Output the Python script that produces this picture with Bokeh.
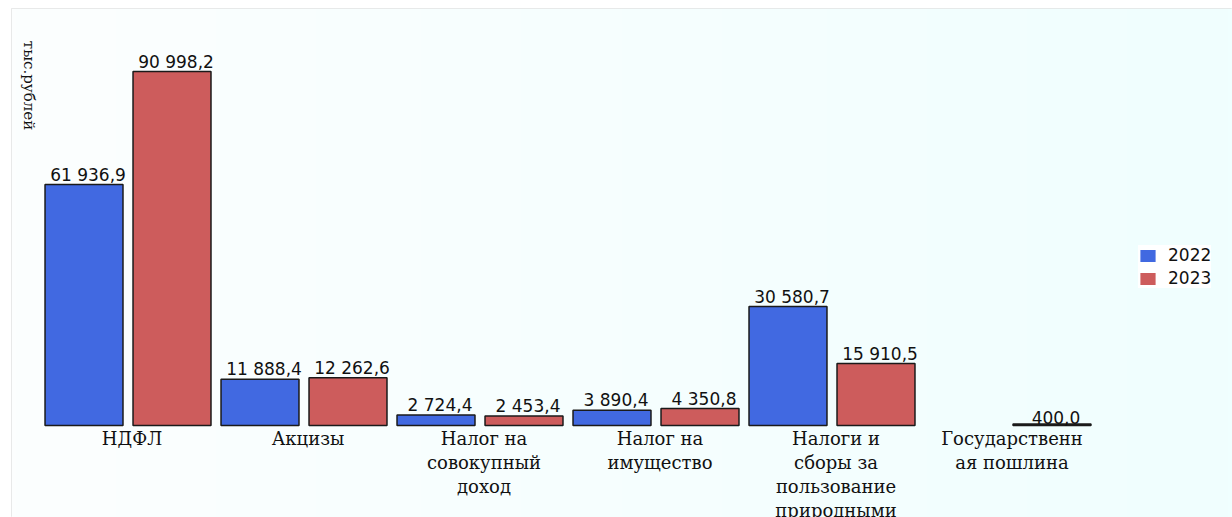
import numpy as np
from bokeh.plotting import figure
from bokeh.models import ColumnDataSource, Legend, LegendItem, Label
from bokeh.core.properties import value
from bokeh.embed import file_html
from bokeh.resources import INLINE

categories = [
    "НДФЛ",
    "Акцизы",
    "Налог на\nсовокупный\nдоход",
    "Налог на\nимущество",
    "Налоги и\nсборы за\nпользование\nприродными",
    "Государственн\nая пошлина",
]
years = ["2022", "2023"]
values_2022 = [61936.9, 11888.4, 2724.4, 3890.4, 30580.7, np.nan]
values_2023 = [90998.2, 12262.6, 2453.4, 4350.8, 15910.5, 400.0]
y_label = "тыс.рублей"

colors = ["#4169e1", "#cd5c5c"]
offsets = [-0.25, 0.25]
bar_w = 0.443


def fmt(v):
    s = f"{v:,.1f}".replace(",", " ").replace(".", ",")
    return s


p = figure(width=1232, height=517, output_backend="svg", toolbar_location=None,
           x_range=(-0.662, 6.2756), y_range=(-23649, 107193),
           x_axis_location=None, y_axis_location=None,
           min_border_left=11, min_border_right=0, min_border_top=8, min_border_bottom=0)
p.xgrid.visible = False
p.ygrid.visible = False
p.border_fill_color = "white"
p.outline_line_color = "#e2e2e2"
p.outline_line_width = 1

# background gradient
N = 256
img = np.empty((1, N), dtype=np.uint32)
view = img.view(dtype=np.uint8).reshape((1, N, 4))
t = np.linspace(0, 1, N)
view[0, :, 0] = (252 + (240 - 252) * t).astype(np.uint8)
view[0, :, 1] = (254 + (255 - 254) * t).astype(np.uint8)
view[0, :, 2] = (254 + (255 - 254) * t).astype(np.uint8)
view[0, :, 3] = 255
p.image_rgba(image=[img], x=p.x_range.start, y=p.y_range.start,
             dw=p.x_range.end - p.x_range.start, dh=p.y_range.end - p.y_range.start)

x_idx = np.arange(len(categories))
legend_items = []
for yr, vals, col, off in zip(years, [values_2022, values_2023], colors, offsets):
    vals = np.array(vals, dtype=float)
    mask = ~np.isnan(vals)
    src = ColumnDataSource(dict(x=x_idx[mask] + off, top=vals[mask],
                                lab=[fmt(v) for v in vals[mask]]))
    p.vbar(x="x", top="top", bottom=0, width=bar_w, source=src,
           fill_color=col, line_color="#1a1a1a", line_width=1.5)
    p.text(x="x", y="top", text="lab", source=src, text_align="center",
           text_baseline="bottom", x_offset=4, y_offset=0,
           text_font=value("DejaVu Sans"), text_font_size="17px", text_color="#111111")
    proxy = p.rect(x=[np.nan], y=[np.nan], width=1, height=1, fill_color=col, line_color=None)
    legend_items.append(LegendItem(label=yr, renderers=[proxy]))

csrc = ColumnDataSource(dict(x=x_idx, y=np.zeros(len(categories)), lab=categories))
p.text(x="x", y="y", text="lab", source=csrc, text_align="center", text_baseline="top",
       x_offset=4, y_offset=2, text_font=value("DejaVu Serif"), text_font_size="18px",
       text_color="#111111", text_line_height=1.15)

p.add_layout(Label(x=17, y=432, x_units="screen", y_units="screen", text=y_label,
                   angle=-np.pi / 2, text_align="center", text_baseline="middle",
                   text_font="DejaVu Serif", text_font_size="15px", text_color="#111111"))

legend = Legend(items=legend_items, location=(1127, 229), orientation="vertical",
                glyph_width=19, glyph_height=15, label_height=20, spacing=3,
                label_standoff=11, padding=3, margin=0,
                border_line_color=None, background_fill_color="white",
                background_fill_alpha=1.0,
                label_text_font="DejaVu Sans", label_text_font_size="17px",
                label_text_color="#111111")
p.add_layout(legend, "center")

open("out.html", "w").write(file_html(p, INLINE))
